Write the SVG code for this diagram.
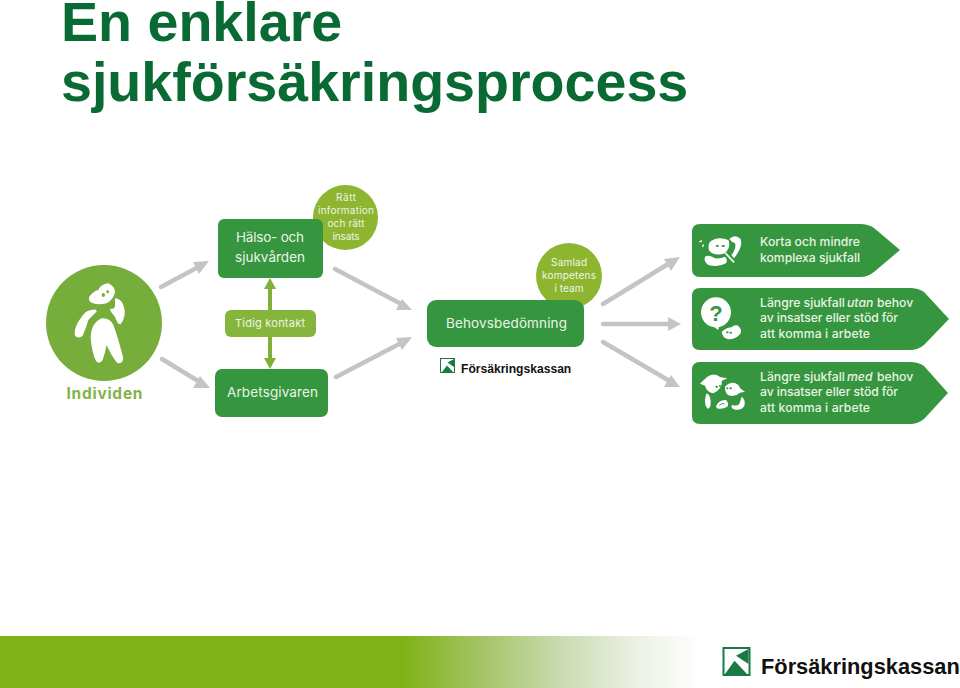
<svg xmlns="http://www.w3.org/2000/svg" width="960" height="688" viewBox="0 0 960 688">
<style>
.w{fill:#e9f3e4;font-size:12.200px;font-family:"Inter","Liberation Sans",sans-serif;font-weight:500}
.c{text-anchor:middle;fill:#eef5e6;font-size:10px;font-family:"Inter","Liberation Sans",sans-serif}
.b{fill:#eaf4e6;font-size:13.500px;font-family:"Inter","Liberation Sans",sans-serif}
.t{font-family:"Liberation Sans",Arial,sans-serif;font-weight:700;font-size:55.600px;fill:#0a6a33}
.g{fill:#36963f}.l{fill:#8db52f}.li{fill:#76ad3b}.f{fill:#fff}.e{fill:#76ad3b}
.a{stroke:#c4c4c4;stroke-width:4.500;fill:none;stroke-linecap:round}
.ah{fill:#c4c4c4}
.lg{font-family:"Liberation Sans",Arial,sans-serif;font-weight:700;fill:#111}
</style>
<defs>
<linearGradient id="bar" x1="0" x2="1" y1="0" y2="0">
<stop offset="0" stop-color="#7fb217"/><stop offset="0.42" stop-color="#7fb217"/><stop offset="0.5" stop-color="#a3c464"/><stop offset="0.58" stop-color="#c8d9ad"/><stop offset="0.66" stop-color="#eaf0e2"/><stop offset="0.73" stop-color="#fff"/><stop offset="1" stop-color="#fff"/>
</linearGradient>
</defs>
<g id="title"><text class="t" x="61" y="41">En enklare</text><text class="t" x="61" y="101">sjukförsäkringsprocess</text></g>
<rect id="footer-bar" x="0" y="636" width="960" height="52" fill="url(#bar)"/>
<g id="connectors">
<path class="a" d="M161 287L202 265"/><path class="ah" d="M209 261L193 262L199 274Z"/>
<path class="a" d="M162 359L203 384"/><path class="ah" d="M210 388L200 376L193 388Z"/>
<path class="a" d="M335 269L405 306"/><path class="ah" d="M412 310L402 299L396 310Z"/>
<path class="a" d="M336 377L405 341"/><path class="ah" d="M412 337L396 338L402 350Z"/>
<path class="a" d="M603 304L673 261"/><path class="ah" d="M680 257L664 259L671 271Z"/>
<path class="a" d="M603 324L672 324"/><path class="ah" d="M681 324L668 317L668 331Z"/>
<path class="a" d="M603 342L673 383"/><path class="ah" d="M680 387L671 375L664 387Z"/>
<path d="M270 285V311M270 336V362" stroke="#7fb13a" stroke-width="4" fill="none"/>
<path d="M270 278L264 289H276ZM270 369L264 358H276Z" fill="#7fb13a"/>
</g>
<g id="individen">
<circle class="li" cx="104" cy="323" r="58"/>
<g transform="translate(60 275) scale(.3333)">
<path class="f" d="M88 65Q100 48 115 45Q122 28 145 25Q165 35 165 50Q162 72 140 85Q110 92 92 82Q84 74 88 65Z"/>
<ellipse class="e" cx="130" cy="60" rx="5" ry="6"/><ellipse class="e" cx="143" cy="50" rx="4" ry="5"/>
<path class="f" d="M165 70Q182 70 190 90Q202 120 182 148Q172 148 165 125Q150 110 150 100Q158 105 165 95Z"/>
<path class="f" d="M108 104Q80 102 65 125Q42 155 44 178Q50 195 68 182Q78 160 85 135Q100 118 110 110Z"/>
<path class="f" d="M125 130Q150 128 160 150Q175 190 190 250Q188 268 172 264Q155 245 140 210Q135 235 128 255Q118 270 108 258Q96 235 92 190Q92 145 125 130Z"/>
</g>
<text x="104.500" y="399" text-anchor="middle" textLength="76" style="font-family:'Inter','Liberation Sans',sans-serif;font-weight:700;font-size:15.500px;fill:#84b24a">Individen</text>
</g>
<g id="ratt"><circle class="l" cx="345.500" cy="217.500" r="32.500"/><text class="c" x="346" y="201" textLength="20">Rätt</text><text class="c" x="346" y="214" textLength="56">information</text><text class="c" x="346" y="227" textLength="37">och rätt</text><text class="c" x="346" y="240" textLength="27">insats</text></g>
<g id="halso"><rect class="g" x="218" y="219" width="105" height="59" rx="6"/><text class="b" x="270" y="242" text-anchor="middle" textLength="68">Hälso- och</text><text class="b" x="270" y="262" text-anchor="middle" textLength="70">sjukvården</text></g>
<g id="tidig"><rect x="225" y="310" width="91" height="27" rx="6" fill="#85b53c"/><text x="270" y="327" text-anchor="middle" textLength="70" style="font-family:'Inter','Liberation Sans',sans-serif;font-size:11px;fill:#eef5e6">Tidig kontakt</text></g>
<g id="arbetsgivaren"><rect class="g" x="215" y="369" width="113" height="48" rx="7"/><text class="b" x="272.500" y="397" text-anchor="middle" textLength="91">Arbetsgivaren</text></g>
<g id="samlad"><circle class="l" cx="569" cy="276" r="33"/><text class="c" x="569" y="266" textLength="36">Samlad</text><text class="c" x="569" y="279" textLength="54">kompetens</text><text class="c" x="569" y="292" textLength="29">i team</text></g>
<g id="behov"><rect class="g" x="427" y="300" width="157" height="47" rx="9"/><text class="b" x="446" y="328" textLength="121">Behovsbedömning</text></g>
<g id="logo-small">
<rect x="440.500" y="358.500" width="14" height="14" fill="#fff" stroke="#1a7a45"/><path d="M454 359L447.500 362.500L454 367ZM442 372L447 365.500L453 372Z" fill="#1a7a45"/>
<text class="lg" x="461" y="373" font-size="12.100">Försäkringskassan</text>
</g>
<g id="korta">
<path class="g" d="M700 224H860Q868 224 874 228L900 250L874 272Q868 277 860 277H700Q692 277 692 269V232Q692 224 700 224Z"/>
<g transform="translate(690 225) scale(.3333)">
<path class="f" d="M60 50Q85 32 115 45Q124 65 105 85Q75 95 58 78Q52 62 60 50Z"/>
<ellipse class="g" cx="82" cy="63" rx="5" ry="3"/><ellipse class="g" cx="100" cy="63" rx="5" ry="3"/>
<path class="f" d="M45 95Q58 88 75 100Q92 102 105 95Q114 105 108 115Q85 128 55 120Q40 110 45 95Z"/>
<path class="f" d="M118 42Q135 25 152 42Q160 65 132 100L124 90Q140 72 135 55Q125 52 118 42Z"/>
<path d="M106 84L132 112" stroke="#fff" stroke-width="5"/>
<path d="M36 47L28 51M40 58L38 66" stroke="#fff" stroke-width="4"/>
</g>
<text class="w" x="760" y="246" textLength="100">Korta och mindre</text><text class="w" x="760" y="262" textLength="100">komplexa sjukfall</text>
</g>
<g id="utan">
<path class="g" d="M700 288H910Q918 288 924 292L949 319L924 345Q918 350 910 350H700Q692 350 692 342V296Q692 288 700 288Z"/>
<g transform="translate(690 290) scale(.3333)">
<circle class="f" cx="78" cy="67" r="45"/><path class="f" d="M55 100L85 120L88 105Z"/>
<path class="f" d="M95 125Q112 112 125 112Q130 104 142 106Q158 118 152 130Q140 148 115 148Q96 142 95 125Z"/>
<ellipse class="g" cx="112" cy="127" rx="4" ry="3"/><ellipse class="g" cx="122" cy="128" rx="4" ry="3"/>
</g>
<text x="716" y="321" text-anchor="middle" style="font-family:'Liberation Sans',sans-serif;font-weight:700;font-size:22px;fill:#36963f">?</text>
<text class="w" x="760" y="307">Längre sjukfall <tspan x="847" font-style="italic">utan</tspan> <tspan x="877">behov</tspan></text><text class="w" x="760" y="322" textLength="138">av insatser eller stöd för</text><text class="w" x="760" y="338" textLength="110">att komma i arbete</text>
</g>
<g id="med">
<path class="g" d="M700 362H910Q918 362 924 366L948 393L924 419Q918 424 910 424H700Q692 424 692 416V370Q692 362 700 362Z"/>
<g transform="translate(690 290) scale(.3333)">
<path class="f" d="M30 281Q44 268 50 262Q65 250 80 255Q90 260 92 262Q102 264 112 265L96 272Q96 298 70 310Q50 306 45 287Z"/>
<ellipse class="g" cx="80" cy="290" rx="4" ry="3"/><ellipse class="g" cx="90" cy="288" rx="3" ry="3"/>
<path class="f" d="M105 290Q125 270 145 285L152 296L165 305L150 308Q135 322 115 316Q104 306 105 290Z"/>
<ellipse class="g" cx="112" cy="295" rx="3" ry="3"/><ellipse class="g" cx="122" cy="295" rx="4" ry="3"/>
<path class="f" d="M50 310Q62 315 62 340Q62 356 52 356Q44 345 45 330Q46 318 50 310Z"/>
<path class="f" d="M78 348Q88 328 108 330Q118 340 112 350Q100 358 85 356Q78 354 78 348Z"/>
<path d="M88 346Q96 338 103 342" stroke="#36963f" stroke-width="3" fill="none"/>
<path class="f" d="M155 320Q168 330 163 348Q150 366 128 356Q122 350 126 344Q140 350 148 342Q152 330 155 320Z"/>
</g>
<text class="w" x="760" y="381">Längre sjukfall <tspan x="847" font-style="italic">med</tspan> <tspan x="877">behov</tspan></text><text class="w" x="760" y="396" textLength="138">av insatser eller stöd för</text><text class="w" x="760" y="412" textLength="110">att komma i arbete</text>
</g>
<g id="logo-footer">
<rect x="723.500" y="648" width="26" height="27" fill="#fff" stroke="#1a7a45" stroke-width="2"/><path d="M748.500 649L736 655.700L748.500 664ZM725 674L734.500 660.700L747 674Z" fill="#1a7a45"/>
<text class="lg" x="761" y="674" font-size="21.800">Försäkringskassan</text>
</g>
</svg>
